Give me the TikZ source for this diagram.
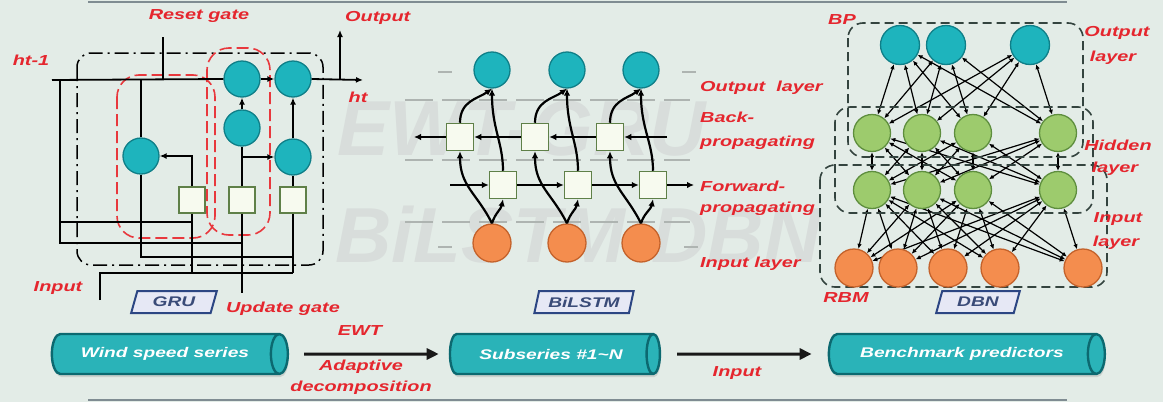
\documentclass[tikz,border=0pt]{standalone}
\usepackage{fontspec}
\setmainfont{Liberation Sans}
\newfontfamily\lab[FakeStretch=1.37]{Liberation Sans}
\newfontfamily\wmfont{Liberation Sans}
\usetikzlibrary{arrows.meta,shapes.geometric,shadows,calc}
\definecolor{bgc}{HTML}{E3ECE7}
\definecolor{wmc}{HTML}{D8DDDB}
\definecolor{lred}{HTML}{E5262E}
\definecolor{cyF}{HTML}{1EB4BD}
\definecolor{cyD}{HTML}{0F7F88}
\definecolor{grF}{HTML}{9DCB6D}
\definecolor{grD}{HTML}{5E8E3E}
\definecolor{orF}{HTML}{F48D4E}
\definecolor{orD}{HTML}{C4622B}
\definecolor{sqF}{HTML}{F7FAEF}
\definecolor{sqD}{HTML}{5F8048}
\definecolor{cylF}{HTML}{2AB3B8}
\definecolor{cylD}{HTML}{0C6970}
\definecolor{tagF}{HTML}{E6E8F5}
\definecolor{tagD}{HTML}{2C4683}
\definecolor{tagT}{HTML}{3A4B78}
\definecolor{frameD}{HTML}{34443F}
\definecolor{layerG}{HTML}{AEB4B1}
\definecolor{rulec}{HTML}{7F8C92}
\definecolor{gatec}{HTML}{E8383D}
\pgfdeclarelayer{back}\pgfdeclarelayer{edges}\pgfsetlayers{back,edges,main}
\begin{document}
\begin{tikzpicture}[x=1pt,y=-1pt,
 lbl/.style={font=\lab\bfseries\itshape\fontsize{14.5}{16}\selectfont,text=lred,inner sep=0pt},
 wm/.style={font=\wmfont\bfseries\itshape\fontsize{78}{80}\selectfont,text=wmc,inner sep=0pt},
 cyc/.style={circle,draw=cyD,fill=cyF,line width=1.3pt,minimum size=36pt,inner sep=0pt},
 dcyc/.style={cyc,minimum size=39pt},
 grc/.style={circle,draw=grD,fill=grF,line width=1.3pt,minimum size=37pt,inner sep=0pt},
 orc/.style={circle,draw=orD,fill=orF,line width=1.3pt,minimum size=38pt,inner sep=0pt},
 sqb/.style={rectangle,draw=sqD,fill=sqF,line width=1.5pt,minimum size=26pt,inner sep=0pt},
 wire/.style={line width=1.8pt,draw=black},
 arr/.style={wire,-{Latex[length=7pt,width=6pt]}},
 barr/.style={line width=2.2pt,draw=black,-{Latex[length=7pt,width=6.5pt]}},
 dbn/.style={line width=1.2pt,draw=black,{Latex[length=5pt,width=4.5pt]}-{Latex[length=5pt,width=4.5pt]}},
 gate/.style={draw=gatec,line width=1.6pt,dash pattern=on 12pt off 5pt,rounded corners=22pt},
 dbox/.style={draw=frameD,line width=1.6pt,dash pattern=on 9pt off 5pt,rounded corners=15pt},
 layerline/.style={draw=layerG,line width=2.5pt,dash pattern=on 28pt off 9pt},
 tag/.style={trapezium,trapezium left angle=70,trapezium right angle=110,trapezium stretches=true,
   draw=tagD,fill=tagF,line width=2pt,minimum width=86pt,minimum height=22pt,inner sep=0pt,
   text=tagT,font=\lab\bfseries\itshape\fontsize{14}{16}\selectfont},
 cyl/.style={cylinder,shape aspect=1.3,draw=cylD,line width=2.4pt,fill=cylF,minimum width=40pt,inner sep=0pt,
   text=white,font=\lab\bfseries\itshape\fontsize{14}{16}\selectfont,
   drop shadow={shadow xshift=1pt,shadow yshift=-3pt,opacity=0.2,fill=black!60}},
 bigarr/.style={line width=3pt,draw=black!90,-{Triangle[length=12pt,width=11pt]}}
]
\useasboundingbox (0,0) rectangle (1163,402);
\begin{pgfonlayer}{back}
\fill[bgc] (0,0) rectangle (1163,402);
\node[wm] (wm1) at (522,129) {EWT-GRU};
\node[wm] (wm2) at (578,235) {BiLSTM-DBN};
\draw[rulec,line width=2pt] (88,1.5) -- (1067,1.5);
\draw[rulec,line width=2pt] (88,400) -- (1067,400);
\end{pgfonlayer}

% ================= GRU =================
\draw[line width=1.5pt,dash pattern=on 14pt off 5pt on 2pt off 5pt,rounded corners=14pt] (77,53) rectangle (323,265);
\draw[gate] (117,75) rectangle (215,238);
\draw[gate] (207,48) rectangle (270,235);

\node[cyc] (c1) at (141,156) {};
\node[cyc] (c2) at (242,79) {};
\node[cyc] (c3) at (293,79) {};
\node[cyc] (c4) at (242,128) {};
\node[cyc] (c5) at (293,157) {};
\node[sqb] (s1) at (192,200) {};
\node[sqb] (s2) at (242,200) {};
\node[sqb] (s3) at (293,200) {};

\coordinate (hs) at (52,80);
\coordinate (ho) at (363,80);
\coordinate (ob) at (340,80);
\coordinate (ot) at (340,30);
\coordinate (la) at (60,80);
\coordinate (lb) at (60,243);
\coordinate (lc) at (242,243);
\coordinate (ld) at (60,222);
\coordinate (le) at (192,222);
\coordinate (lf) at (293,257);
\coordinate (in0) at (100,300);
\coordinate (in1) at (100,273);
\coordinate (in2) at (293,273);
\coordinate (ua) at (242,293);
\coordinate (rg1) at (163,37);
\coordinate (rg2) at (163,80);

\draw[wire] (hs) -- (c2.west);
\draw[arr] (c2) -- (c3);
\draw[arr] (c3.east) -- (ho);
\draw[arr] (ob) -- (ot);
\draw[wire] (rg1) -- (rg2);
\draw[wire] (la) -- (lb) -- (lc);
\draw[wire] (ld) -- (le);
\draw[wire] (c1 |- hs) -- (c1.north);
\draw[wire] (c1.south) -- (c1.south |- lf) -- (lf);
\draw[wire] (in0) -- (in1) -- (in2);
\draw[wire] (s1.south) -- (s1.south |- in1);
\draw[wire] (s3.south) -- (in2);
\draw[wire] (s2.south) -- (ua);
\draw[arr] (s1.north) |- (c1.east);
\draw[wire] (s2.north) -- (c4.south);
\draw[arr] (s2.north |- c5) -- (c5.west);
\draw[arr] (c4) -- (c2);
\draw[arr] (c5) -- (c3);
\draw[wire] (s3.north) -- (c5.south);

\node[lbl] (lreset) at (199,16) {Reset gate};
\node[lbl,anchor=west] (lout) at (345,18) {Output};
\node[lbl] (lht1) at (31,60) {ht-1};
\node[lbl] (lht) at (358,97) {ht};
\node[lbl] (linput) at (58,288) {Input};
\node[lbl] (lupd) at (283,309) {Update gate};
\node[tag] (tgru) at (174,302) {GRU};

% ================= BiLSTM =================
\draw[layerline] (405,100) -- (690,100);
\draw[layerline] (405,160) -- (690,160);
\draw[layerline] (405,222) -- (690,222);
\draw[layerline] (438,72) -- (452,72);
\draw[layerline] (682,72) -- (696,72);
\draw[layerline] (438,247) -- (452,247);
\draw[layerline] (684,247) -- (698,247);

\node[cyc] (bo1) at (492,70) {};
\node[cyc] (bo2) at (567,70) {};
\node[cyc] (bo3) at (641,70) {};
\node[sqb,minimum size=27pt] (bb1) at (460,137) {};
\node[sqb,minimum size=27pt] (bb2) at (535,137) {};
\node[sqb,minimum size=27pt] (bb3) at (610,137) {};
\node[sqb,minimum size=27pt] (bf1) at (503,185) {};
\node[sqb,minimum size=27pt] (bf2) at (578,185) {};
\node[sqb,minimum size=27pt] (bf3) at (653,185) {};
\node[orc] (bi1) at (492,243) {};
\node[orc] (bi2) at (567,243) {};
\node[orc] (bi3) at (641,243) {};

\coordinate (bbR) at (667,137);
\coordinate (bbL) at (414,137);
\coordinate (bfL) at (450,185);
\coordinate (bfR) at (694,185);

\draw[barr] (bbR) -- (bb3.east);
\draw[barr] (bb3.west) -- (bb2.east);
\draw[barr] (bb2.west) -- (bb1.east);
\draw[barr] (bb1.west) -- (bbL);
\draw[barr] (bfL) -- (bf1.west);
\draw[barr] (bf1.east) -- (bf2.west);
\draw[barr] (bf2.east) -- (bf3.west);
\draw[barr] (bf3.east) -- (bfR);

\foreach \k in {1,2,3}{
  \draw[barr] (bi\k.north) .. controls +(-15,-30) and +(0,35) .. (bb\k.south);
  \draw[barr] (bi\k.north) .. controls +(3,-10) and +(-2,10) .. (bf\k.south);
  \draw[barr] (bb\k.north) .. controls +(0,-22) and +(-14,10) .. (bo\k.south);
  \draw[barr] (bf\k.north) .. controls +(0,-28) and +(0,40) .. (bo\k.south);
}

\node[lbl,anchor=west] (bl1) at (700,88) {Output~ layer};
\node[lbl,anchor=west] (bl2) at (700,117) {Back-};
\node[lbl,anchor=west] (bl3) at (700,143) {propagating};
\node[lbl,anchor=west] (bl4) at (700,186) {Forward-};
\node[lbl,anchor=west] (bl5) at (700,209) {propagating};
\node[lbl,anchor=west] (bl6) at (700,264) {Input layer};
\node[tag,minimum width=100pt] (tbil) at (584,302) {BiLSTM};

% ================= DBN =================
\draw[dbox] (848,23) rectangle (1083,157);
\draw[dbox] (835,107) rectangle (1093,213);
\draw[dbox] (820,165) rectangle (1107,287);

\node[dcyc] (o1) at (900,45) {};
\node[dcyc] (o2) at (946,45) {};
\node[dcyc] (o3) at (1030,45) {};
\node[grc] (h1) at (872,133) {};
\node[grc] (h2) at (922,133) {};
\node[grc] (h3) at (973,133) {};
\node[grc] (h4) at (1058,133) {};
\node[grc] (g1) at (872,190) {};
\node[grc] (g2) at (922,190) {};
\node[grc] (g3) at (973,190) {};
\node[grc] (g4) at (1058,190) {};
\node[orc] (i1) at (854,268) {};
\node[orc] (i2) at (898,268) {};
\node[orc] (i3) at (948,268) {};
\node[orc] (i4) at (1000,268) {};
\node[orc] (i5) at (1083,268) {};

\begin{pgfonlayer}{edges}
\foreach \a in {o1,o2,o3}{\foreach \b in {h1,h2,h3,h4}{\draw[dbn] (\a) -- (\b);}}
\foreach \a in {h1,h2,h3,h4}{\foreach \b in {g1,g2,g3,g4}{\draw[dbn] (\a) -- (\b);}}
\foreach \a in {g1,g2,g3,g4}{\foreach \b in {i1,i2,i3,i4,i5}{\draw[dbn] (\a) -- (\b);}}
\end{pgfonlayer}

\node[lbl] (dbp) at (842,20) {BP};
\node[lbl] (drbm) at (846,298) {RBM};
\node[lbl] (do1) at (1117,33) {Output};
\node[lbl] (do2) at (1113,58) {layer};
\node[lbl] (dh1) at (1118,145) {Hidden};
\node[lbl] (dh2) at (1115,169) {layer};
\node[lbl] (di1) at (1118,219) {Input};
\node[lbl] (di2) at (1116,243) {layer};
\node[tag,minimum width=84pt] (tdbn) at (978,302) {DBN};

% ================= bottom flow =================
\node[cyl,minimum height=236pt] (ws) at (165,354) {Wind speed series\hspace{16pt}};
\node[cyl,minimum height=210pt] (sub) at (551,354) {Subseries \#1\textasciitilde N\hspace{16pt}};
\node[cyl,minimum height=276pt] (bench) at (962,354) {Benchmark predictors\hspace{16pt}};
\draw[bigarr,shorten <=15pt,shorten >=10pt] (ws.east) -- (sub.west);
\draw[bigarr,shorten <=16pt,shorten >=16pt] (sub.east) -- (bench.west);
\node[lbl] (tewt) at (360,331) {EWT};
\node[lbl] (tad) at (361,367) {Adaptive};
\node[lbl] (tdec) at (361,388) {decomposition};
\node[lbl] (tin) at (737,373) {Input};
\end{tikzpicture}
\end{document}
